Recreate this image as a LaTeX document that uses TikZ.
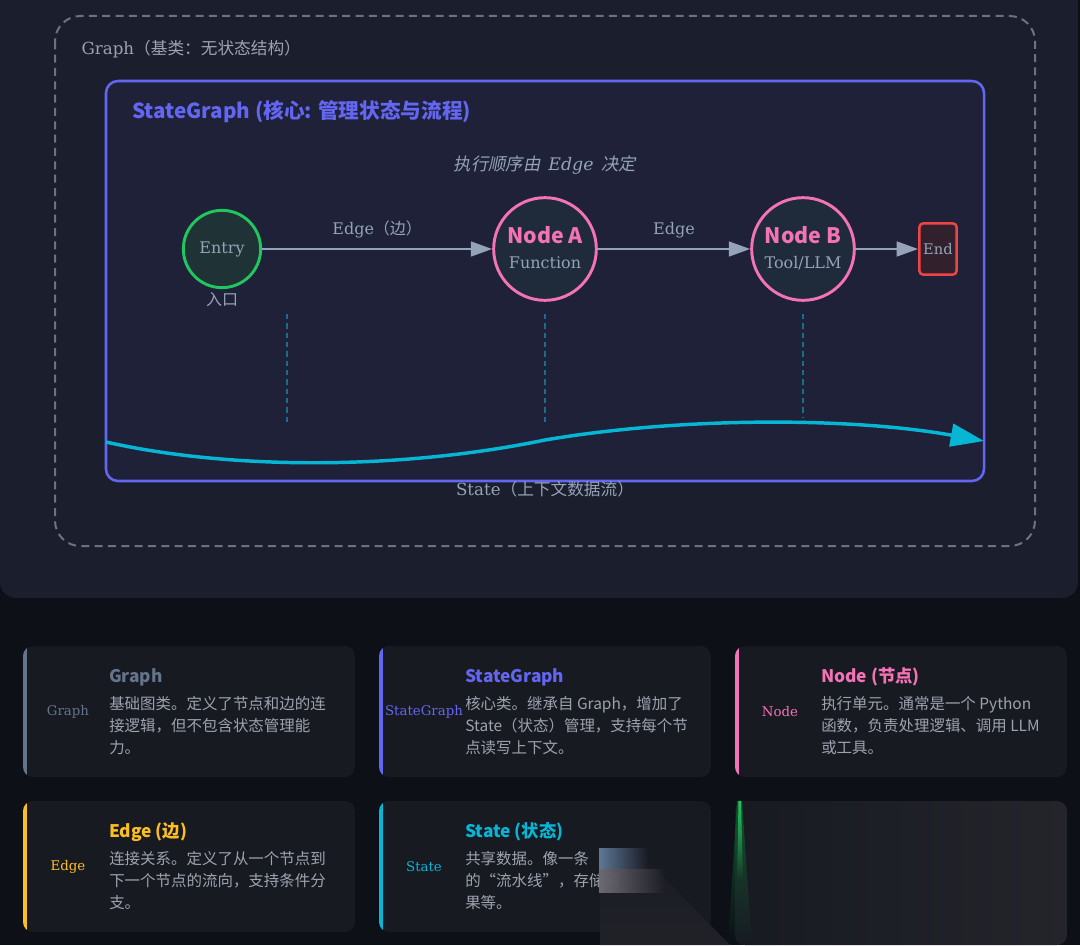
\documentclass[tikz,border=0pt]{standalone}
\usepackage{fontspec}
\setmainfont{DejaVu Serif}
\newfontfamily\zhsans{Noto Sans CJK SC}
\newfontfamily\zhslant{Noto Sans CJK SC}[FakeSlant=0.2]
\usetikzlibrary{arrows.meta,fadings}

\definecolor{pagebg}{HTML}{0D1017}
\definecolor{panel}{HTML}{1B1F2D}
\definecolor{innerbg}{HTML}{1E2138}
\definecolor{dashgray}{HTML}{6B7280}
\definecolor{slate}{HTML}{94A3B8}
\definecolor{indigo}{HTML}{6366F1}
\definecolor{entrygreen}{HTML}{22C55E}
\definecolor{entryfill}{HTML}{1F3236}
\definecolor{nodepink}{HTML}{F472B6}
\definecolor{nodefill}{HTML}{1F2A3B}
\definecolor{endred}{HTML}{EF4444}
\definecolor{endfill}{HTML}{33202D}
\definecolor{statecyan}{HTML}{06B6D4}
\definecolor{guideteal}{HTML}{1B6E8A}
\definecolor{cardbg}{HTML}{181A22}
\definecolor{carddesc}{HTML}{9CA3AF}
\definecolor{graphgray}{HTML}{64748B}
\definecolor{edgeyellow}{HTML}{FBBF24}
\definecolor{fadedcard}{HTML}{24252B}
\definecolor{smearblue}{HTML}{5D7896}
\definecolor{smeargray}{HTML}{6E6A74}

\newcommand\zh[1]{{\zhsans #1}}

\tikzfading[name=fadedown, top color=transparent!0, bottom color=transparent!100]
\tikzfading[name=faderight, left color=transparent!0, right color=transparent!100]

\tikzset{
  lbl/.style={text=slate, font=\fontsize{12}{14}\selectfont, inner sep=1pt},
  flow/.style={draw=slate, line width=1.9pt, -{Triangle[length=16pt,width=11pt]}},
  stateguide/.style={draw=guideteal, line width=0.8pt, dash pattern=on 4pt off 3pt},
  cardtag/.style={font=\fontsize{10}{12}\selectfont, inner sep=0pt},
  cardtitle/.style={font=\zhsans\bfseries\fontsize{13}{15}\selectfont, anchor=west, inner sep=0pt},
  cardtext/.style={text=carddesc, font=\zhsans\fontsize{11.6}{16.5}\selectfont, anchor=north west, align=left, inner sep=0pt}
}

\newcommand\infocard[9]{%
  \begin{scope}
    \clip[rounded corners=7.5pt] (#2,#3) rectangle ++(332,131);
    \fill[cardbg] (#2,#3) rectangle ++(332,131);
    \fill[#4] (#2,#3) rectangle ++(3.5,131);
  \end{scope}
  \node[cardtag, text=#4] (#1tag) at (#2+45,#3+66) {#5};
  \node[cardtitle, text=#4] (#1title) at (#2+86,#3+31) {#6};
  \node[cardtext] (#1text) at (#2+86,#3+50) {#7\\#8\\#9};
}

\begin{document}
\begin{tikzpicture}[x=0.75pt,y=-0.75pt]
\useasboundingbox (0,0) rectangle (1080,945);
\fill[pagebg] (0,0) rectangle (1080,945);
\fill[panel, rounded corners=12pt] (0,-30) rectangle (1078,598);

\draw[dashgray, line width=1.5pt, dash pattern=on 6pt off 4pt, rounded corners=19pt] (55,16) rectangle (1035,546);
\node[lbl, anchor=west, text=carddesc, font=\fontsize{12.5}{14}\selectfont] (graphlbl) at (80,49) {Graph\zh{（基类：无状态结构）}};

\draw[indigo, line width=1.9pt, fill=innerbg, rounded corners=9pt] (106,81) rectangle (984,481);
\node[anchor=west, text=indigo, font=\zhsans\bfseries\fontsize{15.5}{18}\selectfont, inner sep=0pt] (sgtitle) at (132,112) {StateGraph (核心: 管理状态与流程)};
\node[lbl, font=\fontsize{13}{15}\selectfont] (order) at (545,165) {{\zhslant 执行顺序由}\hspace{0.45em}{\itshape Edge}\hspace{0.45em}{\zhslant 决定}};

\node[circle, draw=entrygreen, fill=entryfill, line width=2.2pt, minimum size=58pt, inner sep=0pt, lbl] (entry) at (222,249) {Entry};
\node[lbl] (entrycn) at (222,300) {\zh{入口}};
\node[circle, draw=nodepink, fill=nodefill, line width=2.2pt, minimum size=77pt, inner sep=0pt] (nodea) at (545,249) {};
\node[text=nodepink, font=\zhsans\bfseries\fontsize{16}{18}\selectfont, inner sep=0pt] (nodeaname) at (545,235) {Node A};
\node[lbl] (nodeafn) at (545,263) {Function};
\node[circle, draw=nodepink, fill=nodefill, line width=2.2pt, minimum size=77pt, inner sep=0pt] (nodeb) at (803,249) {};
\node[text=nodepink, font=\zhsans\bfseries\fontsize{16}{18}\selectfont, inner sep=0pt] (nodebname) at (803,235) {Node B};
\node[lbl] (nodebfn) at (803,263) {Tool/LLM};
\node[draw=endred, fill=endfill, line width=1.9pt, rounded corners=3pt, minimum width=28pt, minimum height=38.5pt, inner sep=0pt, lbl, font=\fontsize{11}{13}\selectfont] (end) at (938,249) {End};

\draw[flow] (entry) -- (nodea) node[midway, above=6pt, lbl] {Edge\zh{（边）}};
\draw[flow] (nodea) -- (nodeb) node[midway, above=6pt, lbl] {Edge};
\draw[flow] (nodeb) -- (end);

\foreach \gx/\gy in {287/426,545/426,803/418}
  \draw[stateguide] (\gx,314) -- (\gx,\gy);

\coordinate (wavestart) at (106,442);
\coordinate (waveend) at (984,441);
\draw[statecyan, line width=2.6pt, -{Triangle[length=25pt,width=17pt]}] (wavestart) .. controls (230,470) and (400,470) .. (545,440) .. controls (680,417) and (850,417) .. (waveend);
\node[lbl, font=\fontsize{12.5}{14}\selectfont] (statelbl) at (545,489) {State\zh{（上下文数据流）}};

\infocard{graph}{23}{646}{graphgray}{Graph}{Graph}{基础图类。定义了节点和边的连}{接逻辑，但不包含状态管理能}{力。}
\infocard{sg}{379}{646}{indigo}{StateGraph}{StateGraph}{核心类。继承自 Graph，增加了}{State（状态）管理，支持每个节}{点读写上下文。}
\infocard{node}{735}{646}{nodepink}{Node}{Node (节点)}{执行单元。通常是一个 Python}{函数，负责处理逻辑、调用 LLM}{或工具。}
\infocard{edge}{23}{801}{edgeyellow}{Edge}{Edge (边)}{连接关系。定义了从一个节点到}{下一个节点的流向，支持条件分}{支。}
\infocard{state}{379}{801}{statecyan}{State}{State (状态)}{共享数据。像一条}{的“流水线”，存储消}{果等。}

\shade[left color=cardbg, right color=fadedcard, rounded corners=7.5pt] (735,801) rectangle (1067,945);
\shade[top color=cardbg, bottom color=fadedcard, opacity=0.85] (600,845) -- (632,845) -- (730,945) -- (600,945) -- cycle;
\fill[smearblue, path fading=faderight] (599,848) rectangle (648,869);
\fill[smeargray, path fading=faderight] (599,869) rectangle (665,893);
\fill[entrygreen!60!black, path fading=fadedown, opacity=0.6] (737,801) -- (742,801) -- (752,945) -- (728,945) -- cycle;
\fill[entrygreen, path fading=fadedown] (738.5,801) -- (741,801) -- (743,880) -- (737,880) -- cycle;
\end{tikzpicture}
\end{document}
